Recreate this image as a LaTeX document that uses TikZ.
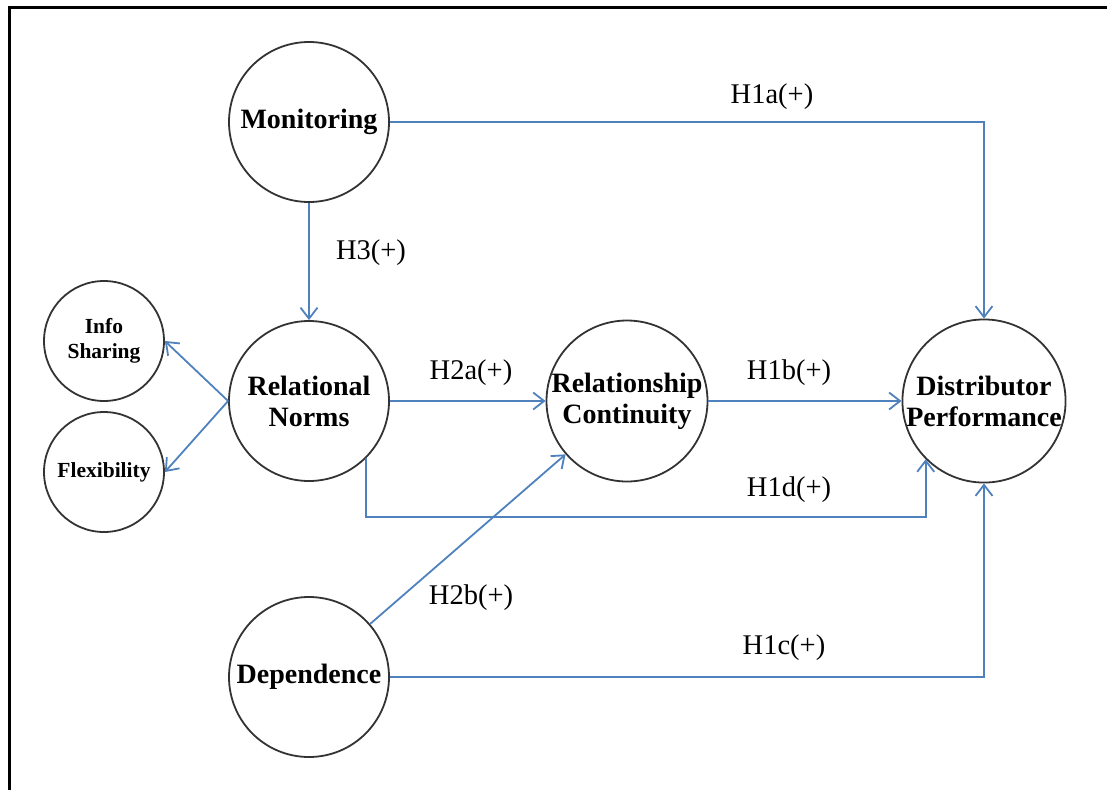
\documentclass[tikz,border=0pt]{standalone}
\usepackage{fontspec}
\setmainfont{Liberation Serif}
\usetikzlibrary{arrows.meta}
\definecolor{linkblue}{RGB}{79,129,189}

\begin{document}
\begin{tikzpicture}[x=1pt,y=-1pt,
  construct/.style={draw=black!80,line width=1.8pt,circle,minimum size=160pt,inner sep=0pt,align=center,
    font=\fontsize{28}{31}\selectfont\bfseries},
  indicator/.style={construct,minimum size=120pt,font=\fontsize{21.5}{25}\selectfont\bfseries},
  link/.style={draw=linkblue,line width=1.8pt,-{Straight Barb[length=11pt,width=17pt]}},
  hyp/.style={font=\fontsize{28.5}{31}\selectfont}]
\useasboundingbox (0,0) rectangle (1107,790);
\draw[line width=3pt] (9,790) |- (1107,7);

\node[construct] (mon) at (309,122) {Monitoring};
\node[construct] (rn) at (309,401) {Relational\\Norms};
\node[construct] (rc) at (627,401) {Relationship\\Continuity};
\node[construct] (dp) at (984,401) {Distributor\\Performance};
\node[construct] (dep) at (309,677) {Dependence};
\node[indicator] (info) at (104,341) {Info\\Sharing};
\node[indicator] (flex) at (104,472) {Flexibility};

\coordinate (h1dlevel) at (0,517);

\draw[link] (mon.east) -| (dp.north);
\draw[link] (mon) -- (rn);
\draw[link] (rn.west) -- (info.east);
\draw[link] (rn.west) -- (flex.east);
\draw[link] (rn) -- (rc);
\draw[link] (rc) -- (dp);
\draw[link] (rn.south east) |- (h1dlevel -| dp.south west) -- (dp.south west);
\draw[link] (dep) -- (rc);
\draw[link] (dep.east) -| (dp.south);

\node[hyp] (h1a) at (772,97) {H1a(+)};
\node[hyp] (h3) at (371,253) {H3(+)};
\node[hyp] (h2a) at (471,373) {H2a(+)};
\node[hyp] (h1b) at (789,373) {H1b(+)};
\node[hyp] (h1d) at (789,490) {H1d(+)};
\node[hyp] (h2b) at (471,598) {H2b(+)};
\node[hyp] (h1c) at (784,648) {H1c(+)};
\end{tikzpicture}
\end{document}
